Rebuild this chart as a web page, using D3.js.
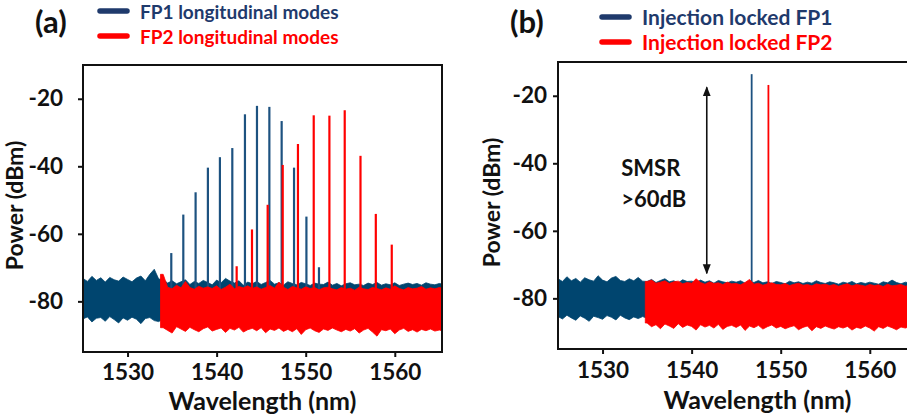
<!DOCTYPE html>
<html>
<head>
<meta charset="utf-8">
<script src="https://cdn.jsdelivr.net/npm/d3@7"></script>
<style>
  body { margin: 0; background: #fff; }
  svg { display: block; font-family: Lato, "Open Sans", sans-serif; font-weight: bold; }
</style>
</head>
<body>
<div class="chart"></div>
<script>
// sampling grid of the noise floor (nm)
const noiseWl = [
  1525, 1525.5, 1526, 1526.5, 1527, 1527.5, 1528, 1528.5, 1529, 1529.5,
  1530, 1530.5, 1531, 1531.5, 1532, 1532.5, 1533, 1533.5, 1534, 1534.5,
  1535, 1535.5, 1536, 1536.5, 1537, 1537.5, 1538, 1538.5, 1539, 1539.5,
  1540, 1540.5, 1541, 1541.5, 1542, 1542.5, 1543, 1543.5, 1544, 1544.5,
  1545, 1545.5, 1546, 1546.5, 1547, 1547.5, 1548, 1548.5, 1549, 1549.5,
  1550, 1550.5, 1551, 1551.5, 1552, 1552.5, 1553, 1553.5, 1554, 1554.5,
  1555, 1555.5, 1556, 1556.5, 1557, 1557.5, 1558, 1558.5, 1559, 1559.5,
  1560, 1560.5, 1561, 1561.5, 1562, 1562.5, 1563, 1563.5, 1564, 1564.5,
  1565, 1565.5
];

// (a) free running FP lasers
const fp1TopA = [
  -73.2, -74.1, -72.6, -73.8, -73.0, -74.3, -72.9, -73.6, -74.0, -72.8,
  -73.5, -74.2, -73.1, -72.5, -73.9, -72.0, -70.5, -73.4, -73.5, -74.6,
  -73.9, -74.8, -74.2, -73.6, -75.0, -74.1, -74.7, -73.8, -74.4, -75.1,
  -73.7, -74.5, -73.2, -74.0, -74.6, -73.9, -75.2, -74.3, -74.8, -74.1,
  -75.0, -74.4, -73.8, -74.9, -74.5, -75.2, -74.2, -74.7, -75.1, -74.4,
  -74.8, -75.3, -74.6, -74.9, -75.0, -74.3, -75.2, -74.7, -75.4, -74.8,
  -74.5, -75.1, -74.9, -75.3, -74.6, -75.0, -74.4, -75.2, -74.8, -75.1,
  -74.5, -75.3, -74.9, -74.6, -75.0, -74.7, -75.2, -74.5, -74.9, -75.1,
  -74.7, -75.0
];
const fp1BottomA = [
  -85.2, -84.6, -86.1, -85.0, -84.8, -85.9, -84.5, -85.4, -86.4, -84.9,
  -85.6, -84.7, -85.3, -86.6, -85.1, -84.8, -85.7, -86.0, -85.2, -85.5,
  -85.4, -85.9, -85.1, -85.6, -86.0, -85.3, -85.8, -85.2, -85.7, -85.5,
  -85.6, -85.2, -85.9, -85.4, -85.7, -86.1, -85.3, -85.8, -85.5, -85.9,
  -85.3, -85.7, -86.0, -85.4, -85.8, -85.2, -85.9, -85.6, -85.3, -85.8,
  -85.5, -85.9, -85.2, -85.7, -86.0, -85.4, -85.8, -85.3, -85.6, -85.9,
  -85.4, -85.8, -85.2, -85.7, -85.5, -86.0, -85.3, -85.6, -85.9, -85.4,
  -85.7, -85.3, -85.8, -85.5, -85.9, -85.2, -85.6, -86.0, -85.4, -85.7,
  -85.5, -85.8
];
const fp2StartA = 1533.7;
// from 1534 nm onwards
const fp2TopA = [
  -72.0, -75.8, -76.3, -75.2, -76.0, -74.1, -75.9, -76.4, -75.5, -76.1,
  -75.7, -76.2, -75.4, -76.5, -75.8, -74.9, -76.3, -75.6, -76.0, -75.4,
  -76.2, -75.7, -76.4, -75.9, -75.3, -76.1, -74.3, -75.8, -76.5, -75.6,
  -76.0, -76.4, -75.7, -76.2, -75.9, -76.6, -76.0, -75.8, -76.3, -76.6,
  -75.9, -76.4, -76.1, -76.7, -75.8, -76.3, -76.5, -75.9, -76.2, -76.6,
  -76.0, -76.4, -75.4, -76.2, -76.6, -75.9, -76.3, -76.1, -75.6, -76.4,
  -76.0, -76.3, -75.9, -76.2
];
const fp2BottomA = [
  -87.8, -88.6, -89.4, -87.5, -88.2, -88.9, -87.7, -88.4, -89.0, -88.1,
  -87.6, -88.8, -88.3, -87.9, -89.2, -88.0, -88.5, -87.7, -89.1, -88.4,
  -88.0, -88.7, -87.8, -89.3, -88.2, -88.6, -87.9, -88.9, -88.3, -89.0,
  -88.1, -89.8, -88.4, -87.9, -88.7, -89.2, -88.2, -88.6, -87.9, -88.5,
  -89.0, -88.3, -88.8, -88.1, -89.4, -88.5, -88.0, -89.1, -90.3, -88.4,
  -88.7, -88.2, -89.6, -88.5, -88.0, -88.9, -88.4, -89.1, -88.3, -88.7,
  -88.2, -88.8, -88.5, -88.9
];
const fp1ModeWlA = [1534.91, 1536.26, 1537.64, 1539.02, 1540.37, 1541.76, 1543.18,
  1544.53, 1545.92, 1547.30, 1548.69, 1550.08, 1551.49];
const fp1ModeDbmA = [-65.7, -54.3, -47.7, -40.4, -37.3, -34.6, -24.6,
  -22.1, -22.4, -26.6, -40.4, -54.9, -69.9];
const fp2ModeWlA = [1542.25, 1543.97, 1545.73, 1547.42, 1549.13, 1550.90,
  1552.66, 1554.38, 1556.15, 1557.87, 1559.66];
const fp2ModeDbmA = [-69.6, -58.7, -51.4, -39.6, -33.4, -24.9,
  -25.0, -23.4, -36.9, -54.1, -63.2];

// (b) injection locked FP lasers
const fp1TopB = [
  -74.2, -75.0, -73.6, -74.8, -74.1, -75.2, -73.9, -74.5, -74.9, -73.3,
  -74.6, -75.1, -74.0, -73.5, -74.7, -75.0, -74.2, -74.8, -73.8, -74.9,
  -75.0, -74.4, -75.3, -74.7, -74.2, -75.1, -74.8, -75.4, -74.5, -75.0,
  -74.9, -75.3, -74.6, -75.2, -74.8, -75.5, -74.7, -75.1, -75.4, -74.9,
  -75.2, -74.8, -75.5, -75.0, -75.3, -74.7, -75.4, -75.1, -75.6, -75.0,
  -75.3, -75.7, -74.9, -75.4, -75.1, -75.6, -75.2, -75.5, -74.8, -75.3,
  -75.6, -75.1, -75.4, -75.8, -75.2, -75.5, -75.0, -75.7, -75.3, -75.6,
  -75.2, -75.5, -75.8, -75.1, -75.4, -74.6, -75.3, -75.7, -75.2, -75.5,
  -75.4, -75.6
];
const fp1BottomB = [
  -85.4, -86.1, -85.0, -85.8, -86.5, -85.2, -85.9, -86.8, -85.3, -85.7,
  -86.2, -85.1, -85.6, -86.4, -85.0, -85.8, -86.3, -85.5, -86.0, -85.4,
  -85.9, -86.3, -85.6, -86.1, -85.8, -86.4, -85.7, -86.0, -86.2, -85.8,
  -86.1, -85.7, -86.3, -85.9, -86.2, -85.6, -86.0, -86.4, -85.8, -86.1,
  -85.9, -86.2, -85.7, -86.3, -86.0, -85.8, -86.4, -85.9, -86.1, -85.7,
  -86.2, -85.9, -86.3, -85.8, -86.1, -86.4, -85.7, -86.0, -86.2, -85.9,
  -86.1, -85.8, -86.3, -86.0, -85.7, -86.2, -85.9, -86.4, -86.0, -85.8,
  -86.2, -85.9, -86.1, -86.3, -85.8, -86.0, -86.4, -85.9, -86.2, -86.0,
  -86.1, -85.9
];
const fp2StartB = 1534.8;
// from 1535 nm onwards
const fp2TopB = [
  -75.0, -74.6, -75.5, -75.2, -74.8, -75.6, -75.1, -74.9, -75.7, -75.3,
  -75.5, -74.2, -75.3, -75.8, -75.1, -75.6, -75.4, -75.9, -75.2, -75.7,
  -75.6, -76.0, -75.3, -74.4, -75.8, -75.5, -76.1, -75.7, -75.4, -75.9,
  -76.0, -75.6, -76.2, -75.8, -75.5, -76.1, -75.9, -76.3, -75.7, -76.0,
  -75.8, -76.2, -75.9, -76.4, -76.0, -75.7, -76.3, -75.9, -76.1, -76.4,
  -75.9, -76.2, -76.0, -76.5, -75.8, -76.3, -76.1, -75.9, -76.4, -76.0,
  -76.2, -76.0
];
const fp2BottomB = [
  -87.3, -88.4, -87.8, -89.0, -87.6, -88.2, -88.9, -87.5, -88.6, -87.9,
  -88.3, -89.4, -87.8, -88.5, -88.0, -88.8, -87.7, -89.2, -88.3, -88.0,
  -88.6, -87.9, -89.5, -88.2, -88.7, -88.0, -89.1, -88.4, -87.9, -88.8,
  -88.3, -89.0, -88.5, -88.1, -89.3, -88.6, -88.2, -89.6, -88.4, -88.9,
  -88.2, -88.7, -89.1, -88.4, -88.8, -88.3, -89.4, -88.6, -88.9, -88.2,
  -88.8, -89.7, -88.4, -88.9, -88.2, -88.7, -89.3, -88.5, -88.8, -88.3,
  -88.9, -88.5
];
const fp1ModeWlB = [1546.74];
const fp1ModeDbmB = [-13.6];
const fp2ModeWlB = [1548.62];
const fp2ModeDbmB = [-16.8];
const smsrWl = 1541.7;
const smsrRange = [-17.5, -72.6];

const xTicks = [1530, 1540, 1550, 1560];
const yTicks = [-80, -60, -40, -20];
const legendA = ['FP1 longitudinal modes', 'FP2 longitudinal modes'];
const legendB = ['Injection locked FP1', 'Injection locked FP2'];

const blueNoise = '#00456f';
const blueMode = '#1d5280';
const blueText = '#1f3a6c';
const red = '#ff0000';

const width = 907;
const height = 416;

const svg = d3.select('.chart')
    .append('svg')
    .attr('width', width)
    .attr('height', height);

const defs = svg.append('defs');
defs.append('marker')
    .attr('id', 'arrow')
    .attr('viewBox', '0 0 10 10')
    .attr('refX', 9).attr('refY', 5)
    .attr('markerWidth', 10).attr('markerHeight', 10)
    .attr('markerUnits', 'userSpaceOnUse')
    .attr('orient', 'auto-start-reverse')
    .append('path')
    .attr('d', 'M0,1 L10,5 L0,9 Z')
    .attr('fill', '#111');

const band = (wl, top, bottom, start) => {
    const pts = wl.map((w, i) => ({ wl: w, hi: top[i], lo: bottom[i] }))
        .filter(d => d.hi !== undefined && d.lo !== undefined);
    if (start !== undefined) pts.unshift({ wl: start, hi: pts[0].hi, lo: pts[0].lo });
    return pts;
};

const drawPanel = (p) => {
    const x = d3.scaleLinear().domain([1525, 1565.3]).range([0, p.w]);
    const y = d3.scaleLinear().domain([-95, -10]).range([p.h, 0]);

    const g = svg.append('g')
        .attr('transform', `translate(${p.left}, ${p.top})`);

    defs.append('clipPath').attr('id', p.id + '-clip')
        .append('rect').attr('width', p.w).attr('height', p.h);

    const plot = g.append('g').attr('clip-path', `url(#${p.id}-clip)`);

    const area = d3.area()
        .x(d => x(d.wl))
        .y0(d => y(d.lo))
        .y1(d => y(d.hi));

    plot.append('path')
        .datum(band(noiseWl, p.fp1Top, p.fp1Bottom))
        .attr('fill', blueNoise)
        .attr('stroke', blueNoise)
        .attr('stroke-width', 0.8)
        .attr('d', area);

    plot.selectAll('.fp1-mode')
        .data(p.fp1Wl).enter()
        .append('line')
        .attr('class', 'fp1-mode')
        .attr('x1', d => x(d)).attr('x2', d => x(d))
        .attr('y1', y(-80))
        .attr('y2', (d, i) => y(p.fp1Dbm[i]))
        .attr('stroke', blueMode)
        .attr('stroke-width', p.modeWidth);

    plot.append('path')
        .datum(band(noiseWl.slice(noiseWl.length - p.fp2Top.length), p.fp2Top, p.fp2Bottom, p.fp2Start))
        .attr('fill', red)
        .attr('stroke', red)
        .attr('stroke-width', 0.8)
        .attr('d', area);

    plot.selectAll('.fp2-mode')
        .data(p.fp2Wl).enter()
        .append('line')
        .attr('class', 'fp2-mode')
        .attr('x1', d => x(d)).attr('x2', d => x(d))
        .attr('y1', y(-80))
        .attr('y2', (d, i) => y(p.fp2Dbm[i]))
        .attr('stroke', red)
        .attr('stroke-width', p.modeWidth);

    // axes
    const xAxis = g.append('g')
        .attr('transform', `translate(0, ${p.h})`)
        .call(d3.axisBottom(x).tickValues(xTicks).tickSize(5).tickPadding(p.xPad)
            .tickFormat(d => String(d)));
    const yAxis = g.append('g')
        .call(d3.axisLeft(y).tickValues(yTicks).tickSize(5).tickPadding(p.yPad)
            .tickFormat(d => String(d)));
    [xAxis, yAxis].forEach(a => {
        a.select('.domain').remove();
        a.selectAll('line').attr('stroke', '#111').attr('stroke-width', 2);
        a.selectAll('text')
            .attr('fill', '#111')
            .style('font-size', '22.5px')
            .style('font-family', 'Lato, sans-serif')
            .style('font-weight', 'bold');
    });

    g.append('rect')
        .attr('width', p.w).attr('height', p.h)
        .attr('fill', 'none')
        .attr('stroke', '#111')
        .attr('stroke-width', 2);

    g.append('text')
        .attr('x', p.w / 2 + p.xLabelShift)
        .attr('y', p.h + p.xLabelY)
        .attr('text-anchor', 'middle')
        .style('font-size', '25px')
        .attr('fill', '#111')
        .text('Wavelength (nm)');

    g.append('text')
        .attr('transform', `translate(${p.yLabelX}, ${p.h / 2 - 3}) rotate(-90)`)
        .attr('text-anchor', 'middle')
        .style('font-size', '23px')
        .attr('fill', '#111')
        .text('Power (dBm)');

    // panel tag and legend
    svg.append('text')
        .attr('x', p.tagX).attr('y', 33)
        .style('font-size', '31px')
        .attr('fill', '#111')
        .text(p.tag);

    const leg = svg.append('g');
    p.legend.forEach((t, i) => {
        leg.append('line')
            .attr('x1', p.legX).attr('x2', p.legX + 27)
            .attr('y1', p.legY + i * 25 - 8).attr('y2', p.legY + i * 25 - 8)
            .attr('stroke', i === 0 ? blueText : red)
            .attr('stroke-width', 5.5)
            .attr('stroke-linecap', 'round');
        leg.append('text')
            .attr('x', p.legX + 40).attr('y', p.legY + i * 25)
            .style('font-size', p.legSize)
            .attr('fill', i === 0 ? blueText : red)
            .text(t);
    });

    if (p.smsr) {
        g.append('line')
            .attr('x1', x(smsrWl)).attr('x2', x(smsrWl))
            .attr('y1', y(smsrRange[1])).attr('y2', y(smsrRange[0]))
            .attr('stroke', '#111')
            .attr('stroke-width', 1.6)
            .attr('marker-start', 'url(#arrow)')
            .attr('marker-end', 'url(#arrow)');
        const st = g.append('text')
            .style('font-size', '22px')
            .attr('fill', '#111');
        st.append('tspan').attr('x', x(1532.1)).attr('y', y(-43.9)).text('SMSR');
        st.append('tspan').attr('x', x(1532.1)).attr('y', y(-53.0)).text('>60dB');
    }
};

drawPanel({
    id: 'a', tag: '(a)', tagX: 35,
    left: 83, top: 65, w: 359, h: 287,
    fp1Top: fp1TopA, fp1Bottom: fp1BottomA,
    fp2Top: fp2TopA, fp2Bottom: fp2BottomA, fp2Start: fp2StartA,
    fp1Wl: fp1ModeWlA, fp1Dbm: fp1ModeDbmA,
    fp2Wl: fp2ModeWlA, fp2Dbm: fp2ModeDbmA,
    modeWidth: 2.2, xPad: 7, yPad: 15, xLabelShift: 0, xLabelY: 58, yLabelX: -60,
    legend: legendA, legSize: '19px', legX: 100, legY: 19, smsr: false
});

drawPanel({
    id: 'b', tag: '(b)', tagX: 510,
    left: 558, top: 62, w: 359, h: 287,
    fp1Top: fp1TopB, fp1Bottom: fp1BottomB,
    fp2Top: fp2TopB, fp2Bottom: fp2BottomB, fp2Start: fp2StartB,
    fp1Wl: fp1ModeWlB, fp1Dbm: fp1ModeDbmB,
    fp2Wl: fp2ModeWlB, fp2Dbm: fp2ModeDbmB,
    modeWidth: 1.8, xPad: 8, yPad: 6, xLabelShift: 20, xLabelY: 60, yLabelX: -58,
    legend: legendB, legSize: '21px', legX: 602, legY: 25, smsr: true
});
</script>
</body>
</html>
